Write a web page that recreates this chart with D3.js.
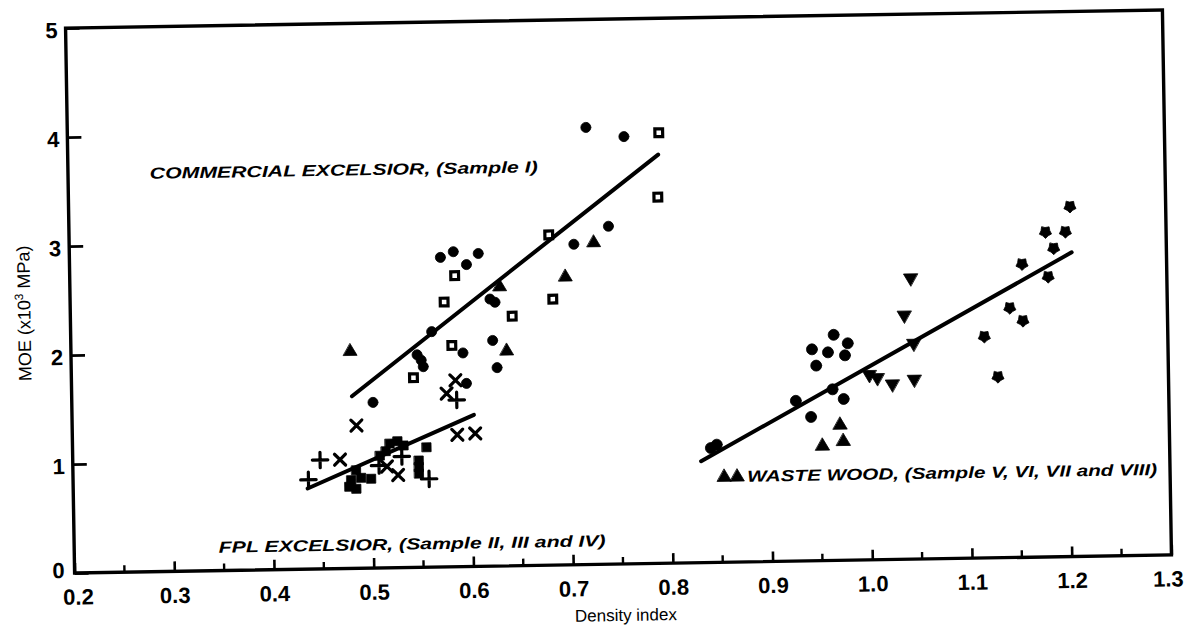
<!DOCTYPE html>
<html><head><meta charset="utf-8">
<script src="https://cdn.jsdelivr.net/npm/d3@7"></script>
<style>body{margin:0;background:#fff}svg{display:block}</style>
</head><body>
<script>
// ---- data ----
const xTicks = [0.2,0.3,0.4,0.5,0.6,0.7,0.8,0.9,1.0,1.1,1.2,1.3];
const xTickLabels = ["0.2","0.3","0.4","0.5","0.6","0.7","0.8","0.9","1.0","1.1","1.2","1.3"];
const xMinorTicks = [0.25,0.35,0.45,0.55,0.65,0.75,0.85,0.95,1.05,1.15,1.25];
const yTicks = [0,1,2,3,4,5];

// Commercial excelsior (Sample I)
const comCircles = [[0.502,1.52],[0.547,1.95],[0.551,1.90],[0.553,1.84],[0.562,2.16],[0.572,2.84],[0.585,2.89],[0.61,2.87],[0.598,2.77],[0.593,1.96],[0.596,1.68],[0.621,2.45],[0.626,2.42],[0.623,2.07],[0.627,1.82],[0.706,2.94],[0.741,3.10],[0.72,4.01],[0.758,3.92]];
const comSquares = [[0.543,1.74],[0.575,2.43],[0.586,2.67],[0.582,2.03],[0.643,2.29],[0.684,2.44],[0.681,3.03],[0.793,3.95],[0.791,3.36]];
const comTriangles = [[0.48,1.99],[0.631,2.56],[0.637,1.97],[0.697,2.64],[0.726,2.95]];

// FPL excelsior (Samples II, III, IV)
const fplPlus = [[0.436,0.82],[0.448,1.0],[0.507,0.94],[0.53,1.02],[0.557,0.81],[0.586,1.53]];
const fplCross = [[0.485,1.31],[0.468,1.0],[0.515,0.93],[0.526,0.85],[0.586,1.21],[0.604,1.22],[0.585,1.71],[0.576,1.59]];
const fplSquares = [[0.484,0.73],[0.477,0.75],[0.479,0.81],[0.489,0.83],[0.499,0.82],[0.484,0.90],[0.518,1.14],[0.526,1.16],[0.514,1.07],[0.508,1.03],[0.532,1.12],[0.555,1.10],[0.547,0.98],[0.547,0.92],[0.547,0.86]];

// Waste wood (Samples V, VI, VII, VIII)
const wwCircles = [[0.84,1.05],[0.846,1.08],[0.926,1.47],[0.941,1.32],[0.943,1.94],[0.959,1.91],[0.965,2.07],[0.979,1.99],[0.976,1.88],[0.947,1.79],[0.974,1.48],[0.963,1.57]];
const wwTriUp = [[0.853,0.78],[0.866,0.78],[0.952,1.05],[0.970,1.24],[0.973,1.09]];
const wwTriDown = [[1.043,2.58],[1.036,2.24],[1.008,1.67],[1.0,1.70],[1.023,1.61],[1.045,1.65],[1.045,1.98]];
const wwStars = [[1.116,2.03],[1.129,1.66],[1.142,2.29],[1.155,2.17],[1.155,2.69],[1.181,2.57],[1.187,2.83],[1.179,2.98],[1.199,2.98],[1.204,3.21]];

// fitted lines
const fitCommercial = [[0.481,1.58],[0.792,3.75]];
const fitFPL = [[0.435,0.74],[0.603,1.39]];
const fitWaste = [[0.83,0.93],[1.205,2.79]];

const labelTexts = ["COMMERCIAL EXCELSIOR, (Sample I)","FPL EXCELSIOR, (Sample II, III and IV)","WASTE WOOD, (Sample V, VI, VII and VIII)"];
const labelX = [0.282, 0.345, 0.876];
const labelY = [3.66, 0.22, 0.79];
const labelMaxX = [0.8, 0.8, 1.287];

// ---- layout ----
const W = 1187, H = 631;
const L = 70, R = 1167, T = 19, B = 564;
const svg = d3.select("body").append("svg").attr("width", W).attr("height", H);
const g = svg.append("g").attr("transform", "rotate(-0.95,618,291)");

const x = d3.scaleLinear().domain([0.2,1.3]).range([L,R]);
const y = d3.scaleLinear().domain([0,5]).range([B,T]);
const font = "Liberation Sans, Arial, Helvetica, sans-serif";

// frame
g.append("rect").attr("x",L).attr("y",T).attr("width",R-L).attr("height",B-T)
  .attr("fill","none").attr("stroke","#000").attr("stroke-width",3.4);

// x axis (ticks inward)
const xAxis = d3.axisBottom(x).tickValues(xTicks).tickSize(-10).tickPadding(16)
  .tickFormat((d,i)=>xTickLabels[i]);
const gx = g.append("g").attr("transform",`translate(0,${B})`).call(xAxis);
gx.select(".domain").remove();
gx.selectAll(".tick line").attr("stroke","#000").attr("stroke-width",2.6);
gx.selectAll(".tick text").attr("font-family",font)
  .attr("font-weight","bold").attr("font-size",22).attr("fill","#000");
gx.selectAll(".tick").filter(d=>d===1.3).select("text").attr("dx",-4);
gx.selectAll(".tick").filter(d=>d===0.2).select("text").attr("dx",3);
g.append("g").selectAll("line").data(xMinorTicks).join("line")
  .attr("x1",d=>x(d)).attr("x2",d=>x(d)).attr("y1",B).attr("y2",B-7)
  .attr("stroke","#000").attr("stroke-width",2.4);

// y axis (ticks inward)
const yAxis = d3.axisLeft(y).tickValues(yTicks).tickSize(-14).tickPadding(8).tickFormat(d3.format("d"));
const gy = g.append("g").attr("transform",`translate(${L},0)`).call(yAxis);
gy.select(".domain").remove();
gy.selectAll(".tick line").attr("stroke","#000").attr("stroke-width",2.8);
gy.selectAll(".tick text").attr("font-family",font)
  .attr("font-weight","bold").attr("font-size",22).attr("fill","#000").attr("dy","0.42em");
gy.selectAll(".tick").filter(d=>d===0).select("text").attr("dy","0.2em").attr("dx",-2);

// axis titles
g.append("text").attr("x",(L+R)/2+2).attr("y",B+57).attr("text-anchor","middle")
  .attr("font-family",font).attr("font-size",17).attr("fill","#000").text("Density index");
g.append("text").attr("transform",`translate(30,${(T+B)/2+12}) rotate(-90)`).attr("text-anchor","middle")
  .attr("font-family",font).attr("font-size",18).attr("fill","#000")
  .html('MOE (x10<tspan dy="-7" font-size="12">3</tspan><tspan dy="7"> MPa)</tspan>');

// fitted lines
const line = d3.line().x(d=>x(d[0])).y(d=>y(d[1]));
[fitCommercial, fitFPL, fitWaste].forEach(d=>{
  g.append("path").attr("d",line(d)).attr("fill","none").attr("stroke","#000")
   .attr("stroke-width",4).attr("stroke-linecap","round");
});

// custom notched pentagon marker
const fatStar = {draw(ctx, size){
  const r = Math.sqrt(size/2.2), ri = r*0.72;
  for(let i=0;i<10;i++){
    const rr = i%2 ? r : ri;
    const ang = -Math.PI/2 + i*Math.PI/5;
    const px = rr*Math.cos(ang), py = rr*Math.sin(ang);
    if(i===0) ctx.moveTo(px,py); else ctx.lineTo(px,py);
  }
  ctx.closePath();
}};

function sym(data, type, size, opts={}){
  g.append("g").selectAll("path").data(data).join("path")
   .attr("transform",d=>`translate(${x(d[0])},${y(d[1])})${opts.rot?` rotate(${opts.rot})`:""}`)
   .attr("d",d3.symbol().type(type).size(size))
   .attr("fill",opts.fill||"#000")
   .attr("stroke","#000").attr("stroke-width",opts.sw||0.8)
   .attr("stroke-linecap","round");
}
sym(comCircles, d3.symbolCircle, 80);
sym(comSquares, d3.symbolSquare, 60, {fill:"#fff", sw:3.2});
sym(comTriangles, d3.symbolTriangle, 80);
sym(fplPlus, d3.symbolPlus, 80, {fill:"none", sw:3.2});
sym(fplCross, d3.symbolTimes, 80, {fill:"none", sw:3.2});
sym(fplSquares, d3.symbolSquare, 80);
sym(wwCircles, d3.symbolCircle, 95);
sym(wwTriUp, d3.symbolTriangle, 85);
sym(wwTriDown, d3.symbolTriangle, 85, {rot:180});
sym(wwStars, fatStar, 90);

// group labels (wide, heavy italic lettering)
const lab = g.append("g").selectAll("text").data(labelTexts).join("text")
  .attr("x",(d,i)=>x(labelX[i])).attr("y",(d,i)=>y(labelY[i])+6)
  .attr("font-family",font).attr("font-weight","bold").attr("font-style","italic")
  .attr("font-size",16).attr("fill","#000").text(d=>d);
const nat = lab.nodes().map(n=>n.getComputedTextLength());
const k = 388/nat[0];
lab.attr("textLength",(d,i)=>Math.min(nat[i]*k, x(labelMaxX[i])-x(labelX[i])))
   .attr("lengthAdjust","spacingAndGlyphs");
</script>
</body></html>
